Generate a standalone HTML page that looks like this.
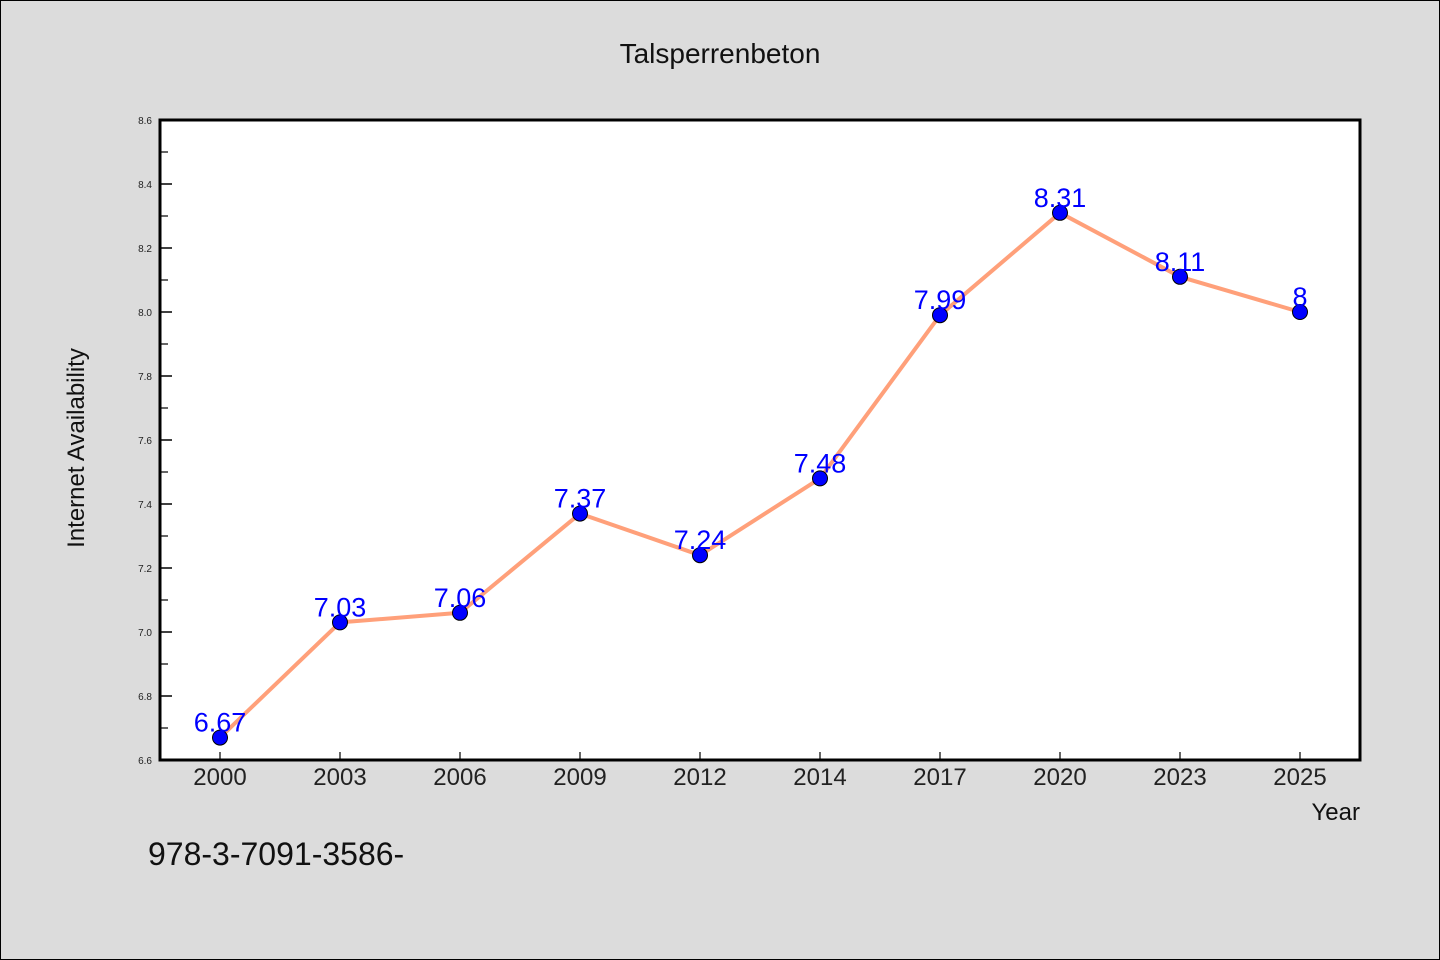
<!DOCTYPE html>
<html><head><meta charset="utf-8"><style>
html,body{margin:0;padding:0;background:#dcdcdc;}
svg{display:block;font-family:"WenQuanYi Zen Hei","Liberation Sans",sans-serif;}
</style></head><body>
<svg id="chart" width="1440" height="960" viewBox="0 0 1440 960" xmlns="http://www.w3.org/2000/svg">
<rect x="0.5" y="0.5" width="1439" height="959" fill="#dcdcdc" stroke="#000" stroke-width="1"/>
<text x="720" y="63" text-anchor="middle" font-size="28" fill="#111">Talsperrenbeton</text>
<rect x="160" y="120" width="1200" height="640" fill="#fff"/>
<g id="yaxis"></g>
<g id="xaxis"></g>
<g id="series"></g>
<rect x="160" y="120" width="1200" height="640" fill="none" stroke="#000" stroke-width="3"/>
<text transform="translate(84,448) rotate(-90)" text-anchor="middle" font-size="24" fill="#111">Internet Availability</text>
<text x="1360" y="820" text-anchor="end" font-size="24" fill="#111">Year</text>
<text x="148" y="865" font-size="32" fill="#111">978-3-7091-3586-</text>
</svg>
<script>
const categories = ["2000","2003","2006","2009","2012","2014","2017","2020","2023","2025"];
const values = [6.67,7.03,7.06,7.37,7.24,7.48,7.99,8.31,8.11,8];
const yTicks = ["6.6","6.8","7.0","7.2","7.4","7.6","7.8","8.0","8.2","8.4","8.6"];
const yMin = 6.6, yMax = 8.6;
const NS = "http://www.w3.org/2000/svg";
const L = 160, R = 1360, T = 120, B = 760;
function xScale(i){ return L + (R - L) / categories.length * (i + 0.5); }
function yScale(v){ return B - (v - yMin) / (yMax - yMin) * (B - T); }
function mk(tag, attrs, parent){ const e = document.createElementNS(NS, tag); for (const k in attrs) e.setAttribute(k, attrs[k]); parent.appendChild(e); return e; }
const ya = document.getElementById('yaxis');
yTicks.forEach((t, i) => {
  const v = parseFloat(t), y = yScale(v);
  const ln = mk('line', {x1: L, x2: L + 12, y1: y, y2: y, stroke: '#000', 'stroke-width': 1.5}, ya);
  
  
  const tx = mk('text', {x: L - 8, y: y + 4, 'text-anchor': 'end', 'font-size': 10, fill: '#222'}, ya);
  tx.textContent = t;
  
  
  if (i < yTicks.length - 1) {
    const ym = yScale(v + 0.1);
    const mn = mk('line', {x1: L, x2: L + 8, y1: ym, y2: ym, stroke: '#000', 'stroke-width': 1.2}, ya);
    
    
  }
});
const xa = document.getElementById('xaxis');
categories.forEach((c, i) => {
  const x = xScale(i);
  const ln = mk('line', {x1: x, x2: x, y1: B, y2: B - 8, stroke: '#000', 'stroke-width': 1.2}, xa);
  
  
  const tx = mk('text', {x: x, y: 785, 'text-anchor': 'middle', 'font-size': 24, fill: '#222'}, xa);
  tx.textContent = c;
  
  
});
const sg = document.getElementById('series');
const pts = values.map((v, i) => xScale(i) + ',' + yScale(v)).join(' ');
const line = mk('polyline', {points: pts, fill: 'none', stroke: '#ffa07a', 'stroke-width': 4, 'stroke-linejoin': 'round'}, sg);


values.forEach((v, i) => {
  const x = xScale(i), y = yScale(v);
  const c = mk('circle', {cx: x, cy: y, r: 7.5, fill: '#0000ff', stroke: '#000', 'stroke-width': 1}, sg);
  
  
  const t = mk('text', {x: x, y: y - 6, 'text-anchor': 'middle', 'font-size': 27, fill: '#0000ff'}, sg);
  t.textContent = String(v);
  
  
});
</script>
</body></html>
